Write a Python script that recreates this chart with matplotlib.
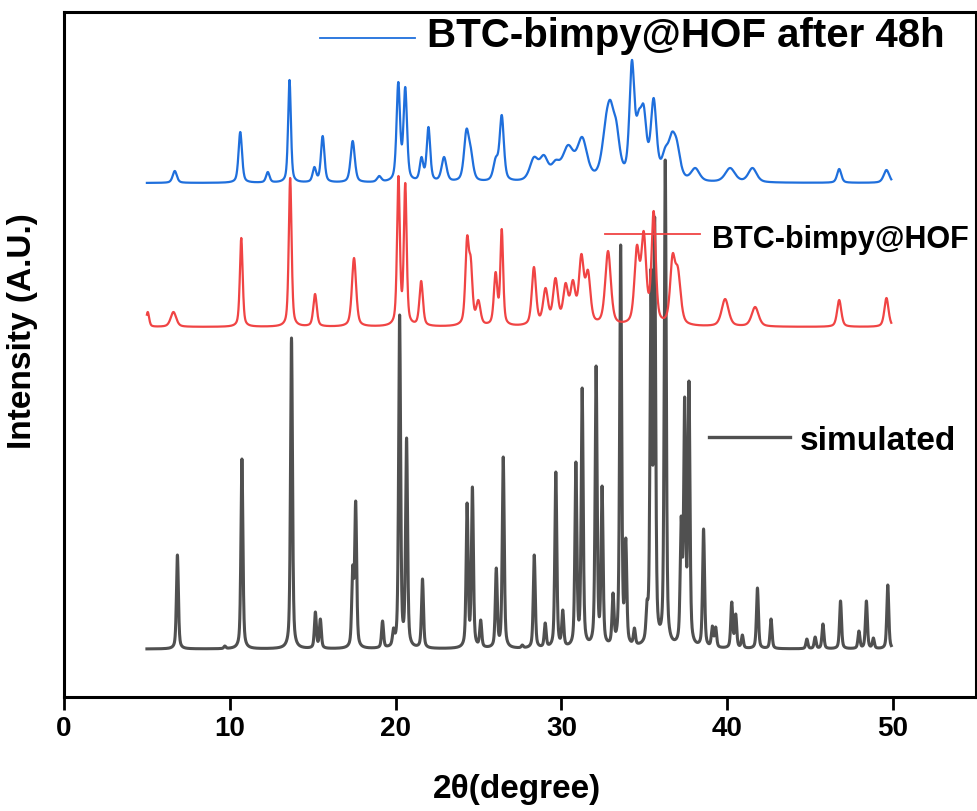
"""
PXRD comparison: simulated pattern vs. BTC-bimpy@HOF before/after 48h
"""
import numpy as np
import matplotlib
matplotlib.use('Agg')
import matplotlib.pyplot as plt
from matplotlib.lines import Line2D

plt.rcParams['font.family'] = ['Liberation Sans', 'DejaVu Sans']
plt.rcParams['font.weight'] = 'bold'

# peak tables: 2theta, peak-top intensity (a.u.), fwhm
sim_base = 48
sim_pos = [6.84, 9.7, 10.73, 13.72, 15.16, 15.46, 17.41, 17.59, 19.21, 19.87,
           20.24, 20.66, 21.62, 24.31, 24.63, 25.13, 26.07, 26.49, 27.64, 28.36,
           29.02, 29.66, 30.08, 30.87, 31.25, 32.09, 32.45, 33.11, 33.57, 33.88,
           34.4, 35.16, 35.4, 35.62, 36.26, 37.22, 37.43, 37.69, 38.57, 39.1,
           39.3, 40.27, 40.51, 40.91, 41.82, 42.64, 44.8, 45.3, 45.77, 46.83,
           47.94, 48.39, 48.81, 49.68]
sim_top = [142, 51, 238, 359, 85, 78, 132, 196, 76, 69,
           382, 259, 118, 194, 210, 77, 129, 240, 52, 142,
           74, 225, 87, 235, 309, 331, 211, 104, 452, 159,
           69, 97, 428, 480, 537, 181, 300, 316, 168, 71,
           70, 95, 83, 62, 109, 78, 58, 60, 73, 96,
           66, 96, 59, 112]
sim_fwhm = 0.14

hof_base = 370
hof_pos = [5.05, 6.6, 10.69, 13.64, 15.14, 17.49, 20.17, 20.58, 21.54, 24.31,
           24.53, 24.99, 26.03, 26.4, 28.34, 29.04, 29.64, 30.25, 30.69, 31.2,
           31.6, 32.81, 34.55, 34.96, 35.56, 36.7, 37.02, 39.87, 41.68, 46.75,
           49.6]
hof_top = [385, 385, 459, 519, 403, 439, 521, 514, 416, 461,
           440, 397, 425, 468, 430, 409, 419, 414, 417, 443,
           427, 446, 452, 466, 486, 443, 430, 398, 390, 397,
           399]
hof_fwhm = [0.2, 0.4, 0.2, 0.2, 0.25, 0.3, 0.2, 0.2, 0.25, 0.25,
            0.25, 0.3, 0.25, 0.2, 0.3, 0.35, 0.35, 0.35, 0.35, 0.35,
            0.35, 0.4, 0.35, 0.35, 0.3, 0.35, 0.4, 0.5, 0.5, 0.3,
            0.3]

h48_base = 514
h48_pos = [6.68, 10.63, 12.29, 13.6, 15.1, 15.6, 17.41, 19.01, 20.16, 20.58,
           21.56, 21.98, 22.92, 24.27, 24.53, 26.04, 26.4, 28.34, 28.94, 29.64,
           30.4, 31.25, 32.69, 32.95, 33.3, 34.25, 34.66, 34.96, 35.56, 36.26,
           36.66, 36.96, 38.07, 40.17, 41.52, 46.75, 49.6]
h48_top = [526, 565, 525, 617, 530, 561, 556, 521, 615, 610,
           540, 570, 540, 568, 550, 540, 582, 540, 542, 537,
           552, 560, 582, 597, 577, 637, 587, 592, 599, 550,
           565, 557, 529, 529, 529, 528, 527]
h48_fwhm = [0.3, 0.25, 0.25, 0.2, 0.25, 0.25, 0.3, 0.3, 0.25, 0.25,
            0.25, 0.25, 0.35, 0.35, 0.35, 0.35, 0.3, 0.6, 0.6, 0.6,
            0.8, 0.7, 0.6, 0.5, 0.5, 0.35, 0.4, 0.4, 0.4, 0.5,
            0.5, 0.5, 0.6, 0.7, 0.6, 0.3, 0.4]

labels = ['simulated', 'BTC-bimpy@HOF', 'BTC-bimpy@HOF after 48h']
colors = ['#505050', '#f04444', '#1f6fdc']


def profile(x, pos, fwhm, eta=0.5):
    """pseudo-Voigt with unit height"""
    d = (x - pos) / (fwhm / 2)
    return eta / (1 + d**2) + (1 - eta) * np.exp(-np.log(2) * d**2)


def pattern(x, base, pos, top, fwhm):
    """build a trace whose maxima hit the read peak tops"""
    pos = np.asarray(pos, float)
    fwhm = np.broadcast_to(np.asarray(fwhm, float), pos.shape)
    A = np.array([[profile(p, q, w) for q, w in zip(pos, fwhm)] for p in pos])
    amp = np.linalg.solve(A, np.asarray(top, float) - base)
    y = np.full_like(x, base, dtype=float)
    for q, w, a in zip(pos, fwhm, amp):
        y += a * profile(x, q, w)
    return y


two_theta = np.arange(5.0, 49.9, 0.01)
sim = pattern(two_theta, sim_base, sim_pos, sim_top, sim_fwhm)
hof = pattern(two_theta, hof_base, hof_pos, hof_top, hof_fwhm)
h48 = pattern(two_theta, h48_base, h48_pos, h48_top, h48_fwhm)

W, H = 977, 811
fig = plt.figure(figsize=(W / 100, H / 100), dpi=100)
ax = fig.add_axes([64 / W, (H - 697) / H, 912 / W, 685 / H])

ax.plot(two_theta, sim, color=colors[0], lw=2.2)
ax.plot(two_theta, hof, color=colors[1], lw=1.6)
ax.plot(two_theta, h48, color=colors[2], lw=1.6)

ax.set_xlim(0, 55)
ax.set_ylim(0, 685)
ax.set_xticks([0, 10, 20, 30, 40, 50])
ax.set_yticks([])
ax.tick_params(axis='x', direction='out', length=9, width=2, labelsize=20, pad=5)
for s in ax.spines.values():
    s.set_linewidth(2.2)

ax.set_xlabel('2θ(degree)', fontsize=24, fontweight='bold')
ax.xaxis.set_label_coords(0.497, -0.112)
ax.set_ylabel('Intensity (A.U.)', fontsize=24, fontweight='bold')
ax.yaxis.set_label_coords(-0.028, 0.534)

# labels placed next to each trace, as in the original
tags = [
    # (line x0, x1, line y, text x, text baseline y, fontsize, lw)
    (0.707, 0.796, 0.380, 0.807, 0.361, 24, 2.4),
    (0.593, 0.697, 0.676, 0.711, 0.655, 22, 1.3),
    (0.281, 0.385, 0.962, 0.398, 0.949, 29, 1.3),
]
for (x0, x1, ly, tx, ty, fs, lw), lab, c in zip(tags, labels, colors):
    ax.add_line(Line2D([x0, x1], [ly, ly], color=c, lw=lw, transform=ax.transAxes))
    ax.text(tx, ty, lab, transform=ax.transAxes, fontsize=fs, fontweight='bold',
            va='baseline', ha='left')

fig.savefig('out.png', dpi=100)
